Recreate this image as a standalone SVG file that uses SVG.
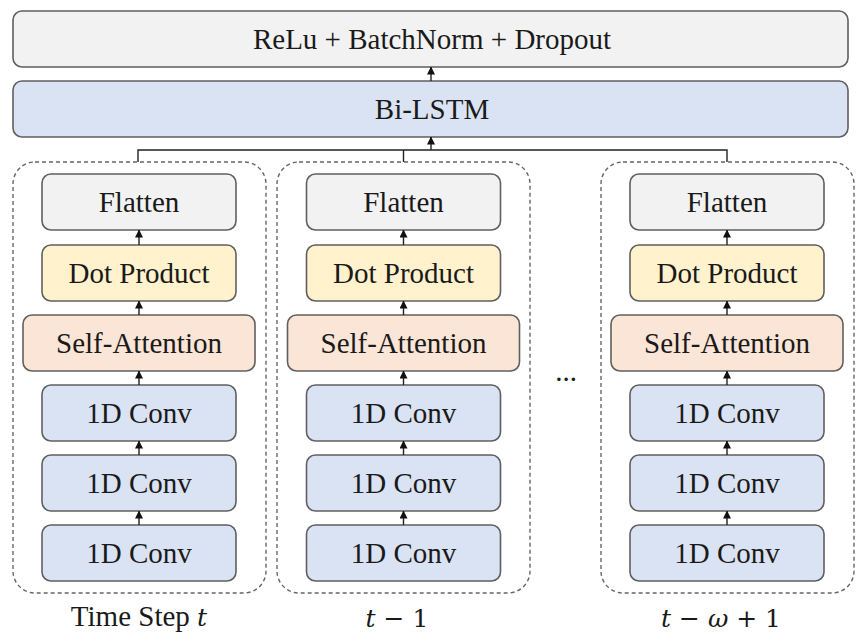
<svg xmlns="http://www.w3.org/2000/svg" width="861" height="635" viewBox="0 0 861 635">
  <style>
    .box { stroke: #5f5f5f; stroke-width: 1.6; }
    .grey { fill: #f2f2f2; }
    .blue { fill: #dae3f3; }
    .yellow { fill: #fff2cc; }
    .orange { fill: #fbe5d6; }
    .group { fill: none; stroke: #666; stroke-width: 1.4; stroke-dasharray: 4 3; }
    .link { fill: none; stroke: #222; stroke-width: 1.4; }
  </style>
  <defs>
    <marker id="arrow" viewBox="0 0 8 8" refX="7.5" refY="4" markerWidth="8" markerHeight="8" markerUnits="userSpaceOnUse" orient="auto">
      <path d="M0,0 L8,4 L0,8 Z" fill="#111"/>
    </marker>
  </defs>

  <rect width="861" height="635" fill="#ffffff"/>

  <!-- output head -->
  <g id="head">
    <rect class="box grey" x="13" y="11" width="835" height="56" rx="9"/>
    <text font-family="Liberation Serif" font-size="29" fill="#1a1a1a" text-anchor="middle" x="432" y="49">ReLu + BatchNorm + Dropout</text>
  </g>
  <g id="bilstm">
    <rect class="box blue" x="13" y="81" width="835" height="56" rx="9"/>
    <text font-family="Liberation Serif" font-size="29" fill="#1a1a1a" text-anchor="middle" x="432" y="119">Bi-LSTM</text>
  </g>

  <!-- time step t -->
  <g id="step-t" font-family="Liberation Serif" font-size="29" fill="#1a1a1a" text-anchor="middle">
    <rect class="group" x="13" y="162" width="253" height="431" rx="22"/>
    <g id="t-flatten"><rect class="box grey" x="42" y="174" width="194" height="56" rx="9"/><text font-family="Liberation Serif" x="139" y="212">Flatten</text></g>
    <g id="t-dot"><rect class="box yellow" x="42" y="245" width="194" height="56" rx="9"/><text font-family="Liberation Serif" x="139" y="283">Dot Product</text></g>
    <g id="t-attn"><rect class="box orange" x="23" y="315" width="232" height="56" rx="9"/><text font-family="Liberation Serif" x="139" y="353">Self-Attention</text></g>
    <g id="t-conv3"><rect class="box blue" x="42" y="385" width="194" height="56" rx="9"/><text font-family="Liberation Serif" x="139" y="423">1D Conv</text></g>
    <g id="t-conv2"><rect class="box blue" x="42" y="455" width="194" height="56" rx="9"/><text font-family="Liberation Serif" x="139" y="493">1D Conv</text></g>
    <g id="t-conv1"><rect class="box blue" x="42" y="525" width="194" height="56" rx="9"/><text font-family="Liberation Serif" x="139" y="563">1D Conv</text></g>
    <text font-family="Liberation Serif" x="139" y="626">Time Step <tspan font-family="DejaVu Serif" font-style="italic" font-size="25">t</tspan></text>
  </g>

  <!-- time step t-1 -->
  <g id="step-t1" font-family="Liberation Serif" font-size="29" fill="#1a1a1a" text-anchor="middle">
    <rect class="group" x="277" y="162" width="253" height="431" rx="22"/>
    <g id="t1-flatten"><rect class="box grey" x="306.5" y="174" width="194" height="56" rx="9"/><text font-family="Liberation Serif" x="403.5" y="212">Flatten</text></g>
    <g id="t1-dot"><rect class="box yellow" x="306.5" y="245" width="194" height="56" rx="9"/><text font-family="Liberation Serif" x="403.5" y="283">Dot Product</text></g>
    <g id="t1-attn"><rect class="box orange" x="287.5" y="315" width="232" height="56" rx="9"/><text font-family="Liberation Serif" x="403.5" y="353">Self-Attention</text></g>
    <g id="t1-conv3"><rect class="box blue" x="306.5" y="385" width="194" height="56" rx="9"/><text font-family="Liberation Serif" x="403.5" y="423">1D Conv</text></g>
    <g id="t1-conv2"><rect class="box blue" x="306.5" y="455" width="194" height="56" rx="9"/><text font-family="Liberation Serif" x="403.5" y="493">1D Conv</text></g>
    <g id="t1-conv1"><rect class="box blue" x="306.5" y="525" width="194" height="56" rx="9"/><text font-family="Liberation Serif" x="403.5" y="563">1D Conv</text></g>
    <text font-family="DejaVu Serif" font-size="25" x="397" y="627"><tspan font-style="italic">t</tspan> − 1</text>
  </g>

  <text font-family="Liberation Serif" font-size="29" fill="#1a1a1a" text-anchor="middle" x="566" y="381">...</text>

  <!-- time step t-w+1 -->
  <g id="step-tw" font-family="Liberation Serif" font-size="29" fill="#1a1a1a" text-anchor="middle">
    <rect class="group" x="601" y="162" width="253" height="431" rx="22"/>
    <g id="tw-flatten"><rect class="box grey" x="630" y="174" width="194" height="56" rx="9"/><text font-family="Liberation Serif" x="727" y="212">Flatten</text></g>
    <g id="tw-dot"><rect class="box yellow" x="630" y="245" width="194" height="56" rx="9"/><text font-family="Liberation Serif" x="727" y="283">Dot Product</text></g>
    <g id="tw-attn"><rect class="box orange" x="611" y="315" width="232" height="56" rx="9"/><text font-family="Liberation Serif" x="727" y="353">Self-Attention</text></g>
    <g id="tw-conv3"><rect class="box blue" x="630" y="385" width="194" height="56" rx="9"/><text font-family="Liberation Serif" x="727" y="423">1D Conv</text></g>
    <g id="tw-conv2"><rect class="box blue" x="630" y="455" width="194" height="56" rx="9"/><text font-family="Liberation Serif" x="727" y="493">1D Conv</text></g>
    <g id="tw-conv1"><rect class="box blue" x="630" y="525" width="194" height="56" rx="9"/><text font-family="Liberation Serif" x="727" y="563">1D Conv</text></g>
    <text font-family="DejaVu Serif" font-size="25" x="721" y="627"><tspan font-style="italic">t</tspan> − <tspan font-style="italic">ω</tspan> + 1</text>
  </g>

  <!-- connectors -->
  <g id="connectors">
    <path class="link" d="M431,81 V67" marker-end="url(#arrow)"/>
    <path class="link" d="M431,150 V137" marker-end="url(#arrow)"/>
    <path class="link" d="M138,162 V150 H727 V162 M403.5,150 V162"/>

    <path class="link" d="M139,245 V230" marker-end="url(#arrow)"/>
    <path class="link" d="M139,315 V301" marker-end="url(#arrow)"/>
    <path class="link" d="M139,385 V371" marker-end="url(#arrow)"/>
    <path class="link" d="M139,455 V441" marker-end="url(#arrow)"/>
    <path class="link" d="M139,525 V511" marker-end="url(#arrow)"/>

    <path class="link" d="M403.5,245 V230" marker-end="url(#arrow)"/>
    <path class="link" d="M403.5,315 V301" marker-end="url(#arrow)"/>
    <path class="link" d="M403.5,385 V371" marker-end="url(#arrow)"/>
    <path class="link" d="M403.5,455 V441" marker-end="url(#arrow)"/>
    <path class="link" d="M403.5,525 V511" marker-end="url(#arrow)"/>

    <path class="link" d="M727,245 V230" marker-end="url(#arrow)"/>
    <path class="link" d="M727,315 V301" marker-end="url(#arrow)"/>
    <path class="link" d="M727,385 V371" marker-end="url(#arrow)"/>
    <path class="link" d="M727,455 V441" marker-end="url(#arrow)"/>
    <path class="link" d="M727,525 V511" marker-end="url(#arrow)"/>
  </g>
</svg>
